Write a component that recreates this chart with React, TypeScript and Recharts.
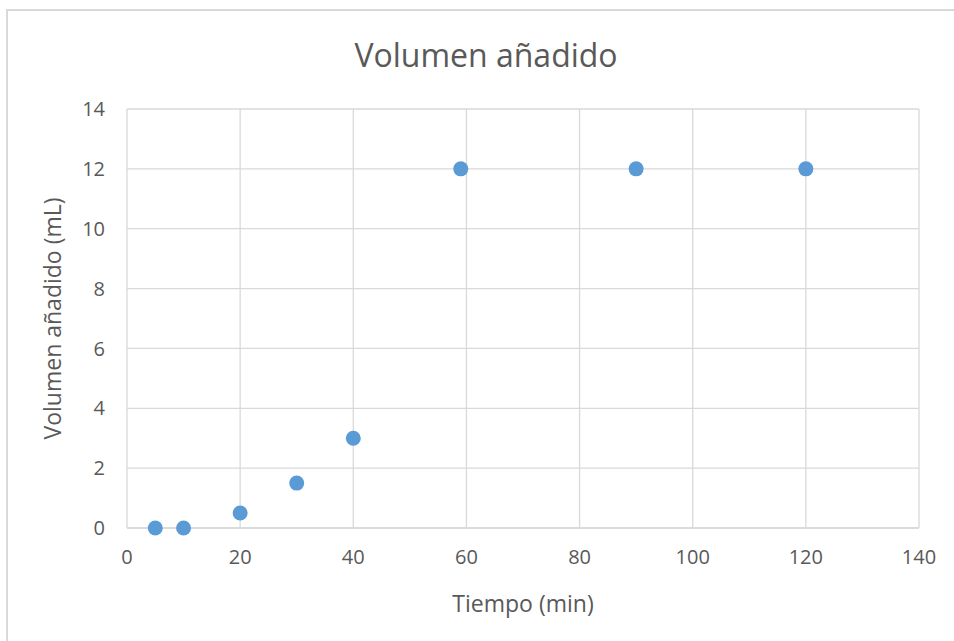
import { ScatterChart, Scatter, XAxis, YAxis, CartesianGrid, Label } from "recharts";

const tiempo = [5, 10, 20, 30, 40, 59, 90, 120];
const volumen = [0, 0, 0.5, 1.5, 3, 12, 12, 12];
const xTicks = [0, 20, 40, 60, 80, 100, 120, 140];
const yTicks = [0, 2, 4, 6, 8, 10, 12, 14];

const data = tiempo.map((t, i) => ({ t, v: volumen[i] }));

const textColor = "#595959";
const font = "'Open Sans', sans-serif";

export default function App() {
  return (
    <div
      style={{
        position: "fixed",
        left: 6,
        top: 9,
        width: 970,
        height: 640,
        border: "2px solid #d9d9d9",
        background: "#fff",
        fontFamily: font,
      }}
    >
      <div
        style={{
          position: "absolute",
          top: 22,
          left: 4,
          width: 948,
          textAlign: "center",
          fontSize: 32,
          color: textColor,
        }}
      >
        Volumen añadido
      </div>
      <ScatterChart
        width={948}
        height={640}
        margin={{ top: 98, right: 37, left: 0, bottom: 39 }}
      >
        <CartesianGrid stroke="#d9d9d9" strokeWidth={1.3} horizontalValues={yTicks} verticalValues={xTicks} />
        <XAxis
          type="number"
          dataKey="t"
          domain={[0, 140]}
          ticks={xTicks}
          tickLine={false}
          axisLine={{ stroke: "#d9d9d9", strokeWidth: 1.3 }}
          tickSize={0}
          tickMargin={22}
          height={84}
          tick={{ fill: textColor, fontSize: 20, fontFamily: font }}
        >
          <Label
            value="Tiempo (min)"
            position="insideBottom"
            offset={0}
            style={{ fill: textColor, fontSize: 23, fontFamily: font }}
          />
        </XAxis>
        <YAxis
          type="number"
          dataKey="v"
          domain={[0, 14]}
          ticks={yTicks}
          tickLine={false}
          axisLine={false}
          tickSize={0}
          tickMargin={22}
          width={119}
          tick={{ fill: textColor, fontSize: 20, fontFamily: font }}
        >
          <Label
            value="Volumen añadido (mL)"
            angle={-90}
            position="insideLeft"
            offset={45}
            style={{ fill: textColor, fontSize: 23, fontFamily: font, textAnchor: "middle" }}
          />
        </YAxis>
        <Scatter
          data={data}
          fill="#5b9bd5"
          isAnimationActive={false}
          shape={(p: any) => <circle cx={p.cx} cy={p.cy} r={7.5} fill="#5b9bd5" />}
        />
      </ScatterChart>
    </div>
  );
}
